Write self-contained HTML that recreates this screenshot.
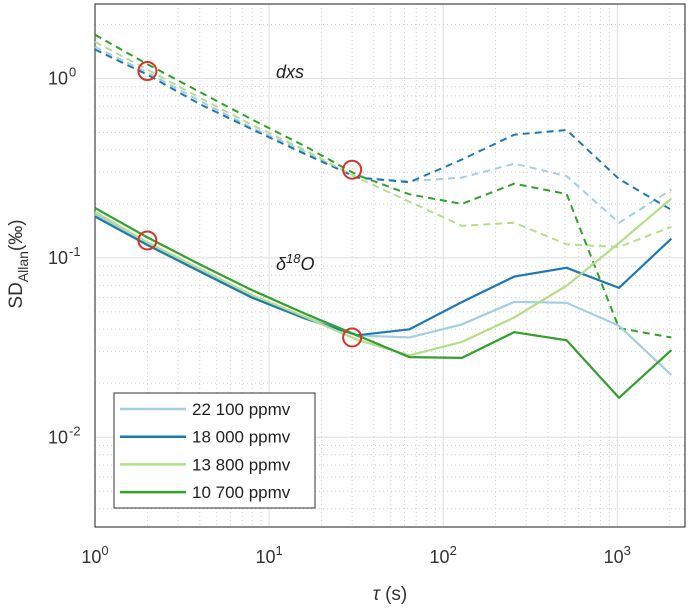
<!DOCTYPE html>
<html><head><meta charset="utf-8"><style>
body{margin:0;background:#fff;}
svg{display:block;font-family:"Liberation Sans",sans-serif;}
</style></head><body>
<svg id="chart" width="688" height="608"></svg>
<script>
const taus=[1,2,4,8,16,32,64,128,256,512,1024,2048];
const seriesNames=["22 100 ppmv","18 000 ppmv","13 800 ppmv","10 700 ppmv"];
const seriesColors=["#a6cee3","#1f78b4","#b2df8a","#33a02c"];
const d18O_22100=[0.175,0.12,0.085,0.061,0.047,0.037,0.036,0.0426,0.0568,0.0562,0.0418,0.0222];
const d18O_18000=[0.17,0.118,0.084,0.06,0.046,0.037,0.040,0.0567,0.0786,0.088,0.068,0.128];
const d18O_13800=[0.18,0.122,0.087,0.062,0.047,0.035,0.0286,0.034,0.0465,0.070,0.121,0.214];
const d18O_10700=[0.19,0.13,0.092,0.066,0.049,0.037,0.028,0.0277,0.0385,0.0347,0.0166,0.0306];
const dxs_22100=[1.5,1.08,0.75,0.53,0.39,0.28,0.268,0.28,0.335,0.286,0.157,0.24];
const dxs_18000=[1.45,1.05,0.72,0.52,0.38,0.28,0.264,0.353,0.486,0.516,0.275,0.185];
const dxs_13800=[1.6,1.12,0.78,0.55,0.40,0.28,0.206,0.151,0.157,0.119,0.115,0.149];
const dxs_10700=[1.75,1.2,0.84,0.59,0.42,0.29,0.226,0.20,0.259,0.227,0.0406,0.036];
const circleTaus=[2,30,2,30];
const circleVals=[1.1,0.31,0.125,0.036];
const xTickExps=[0,1,2,3];
const yTickExps=[0,-1,-2];

const NS="http://www.w3.org/2000/svg";
const svg=document.getElementById('chart');
const L=95,R=685,T=4,B=527;
const xMin=0,xMax=Math.log10(2450),yMin=-2.5,yMax=Math.log10(2.6);
const X=v=>L+(Math.log10(v)-xMin)/(xMax-xMin)*(R-L);
const Y=v=>B-(Math.log10(v)-yMin)/(yMax-yMin)*(B-T);
function mk(tag,attrs,parent){const e=document.createElementNS(NS,tag);for(const k in attrs)e.setAttribute(k,attrs[k]);(parent||svg).appendChild(e);return e;}

const grid=mk('g',{});


for(let e=0;e<=3;e++)for(let m=1;m<10;m++){const v=m*Math.pow(10,e);if(v>2450)break;const x=X(v);
 mk('line',{x1:x,x2:x,y1:T,y2:B,stroke:m==1?'#dedede':'#d0d0d0','stroke-width':1,'stroke-dasharray':m==1?'':'1,3'},grid);}
for(let e=-3;e<=0;e++)for(let m=1;m<10;m++){const v=m*Math.pow(10,e);if(v<Math.pow(10,yMin)||v>2.6)continue;const y=Y(v);
 mk('line',{x1:L,x2:R,y1:y,y2:y,stroke:m==1?'#dedede':'#d0d0d0','stroke-width':1,'stroke-dasharray':m==1?'':'1,3'},grid);}

const frame=mk('rect',{x:L,y:T,width:R-L,height:B-T,fill:'none',stroke:'#444','stroke-width':1.2});



xTickExps.forEach(e=>{const x=X(Math.pow(10,e));
 const t=mk('text',{x:x,y:563,'text-anchor':'middle','font-size':18,fill:'#333'});
 
 
 t.innerHTML='10<tspan dy="-8" font-size="13">'+e+'</tspan>';});
yTickExps.forEach(e=>{const y=Y(Math.pow(10,e));
 const t=mk('text',{x:68,y:y+6,'text-anchor':'end','font-size':18,fill:'#333'});
 
 
 t.innerHTML='10';
 const s=mk('text',{x:69,y:y-2,'text-anchor':'start','font-size':13,fill:'#333'});
 
 
 s.textContent=String(e);});

const dxsSets=[dxs_22100,dxs_18000,dxs_13800,dxs_10700];
const d18Sets=[d18O_22100,d18O_18000,d18O_13800,d18O_10700];
function pathOf(vals){return vals.map((v,i)=>(i?'L':'M')+X(taus[i]).toFixed(1)+','+Y(v).toFixed(1)).join('');}
dxsSets.forEach((s,i)=>{const p=mk('path',{d:pathOf(s),fill:'none',stroke:seriesColors[i],'stroke-width':2,'stroke-dasharray':'7,5'});
 
 });
d18Sets.forEach((s,i)=>{const p=mk('path',{d:pathOf(s),fill:'none',stroke:seriesColors[i],'stroke-width':2.2});
 
 });
circleTaus.forEach((t,i)=>{const c=mk('circle',{cx:X(t),cy:Y(circleVals[i]),r:9,fill:'none',stroke:'#d9342b','stroke-width':2});
 
 });

const a1=mk('text',{x:276,y:78,'font-size':18,'font-style':'italic',fill:'#222'});


a1.textContent='dxs';
const a2=mk('text',{x:276,y:270,'font-size':18,'font-style':'italic',fill:'#222'});


a2.innerHTML='δ<tspan dy="-7" font-size="13">18</tspan><tspan dy="7">O</tspan>';

const lg=mk('g',{});


mk('rect',{x:114,y:393,width:201,height:115,fill:'#fff',stroke:'#333','stroke-width':1},lg);
seriesNames.forEach((n,i)=>{const y=409+i*27.7;
 const ln=mk('line',{x1:120,x2:186,y1:y,y2:y,stroke:seriesColors[i],'stroke-width':2.5},lg);
 
 
 const t=mk('text',{x:192,y:y+6,'font-size':17,fill:'#222'},lg);
 
 
 t.textContent=n;});

const xt=mk('text',{x:390,y:600,'text-anchor':'middle','font-size':19,fill:'#333'});


xt.innerHTML='<tspan font-style="italic">τ</tspan> (s)';
const yt=mk('text',{x:0,y:0,'text-anchor':'middle','font-size':19,fill:'#333',transform:'translate(22,264) rotate(-90)'});


yt.innerHTML='SD<tspan dy="6" font-size="14">Allan</tspan><tspan dy="-6">(‰)</tspan>';
</script>
</body></html>
